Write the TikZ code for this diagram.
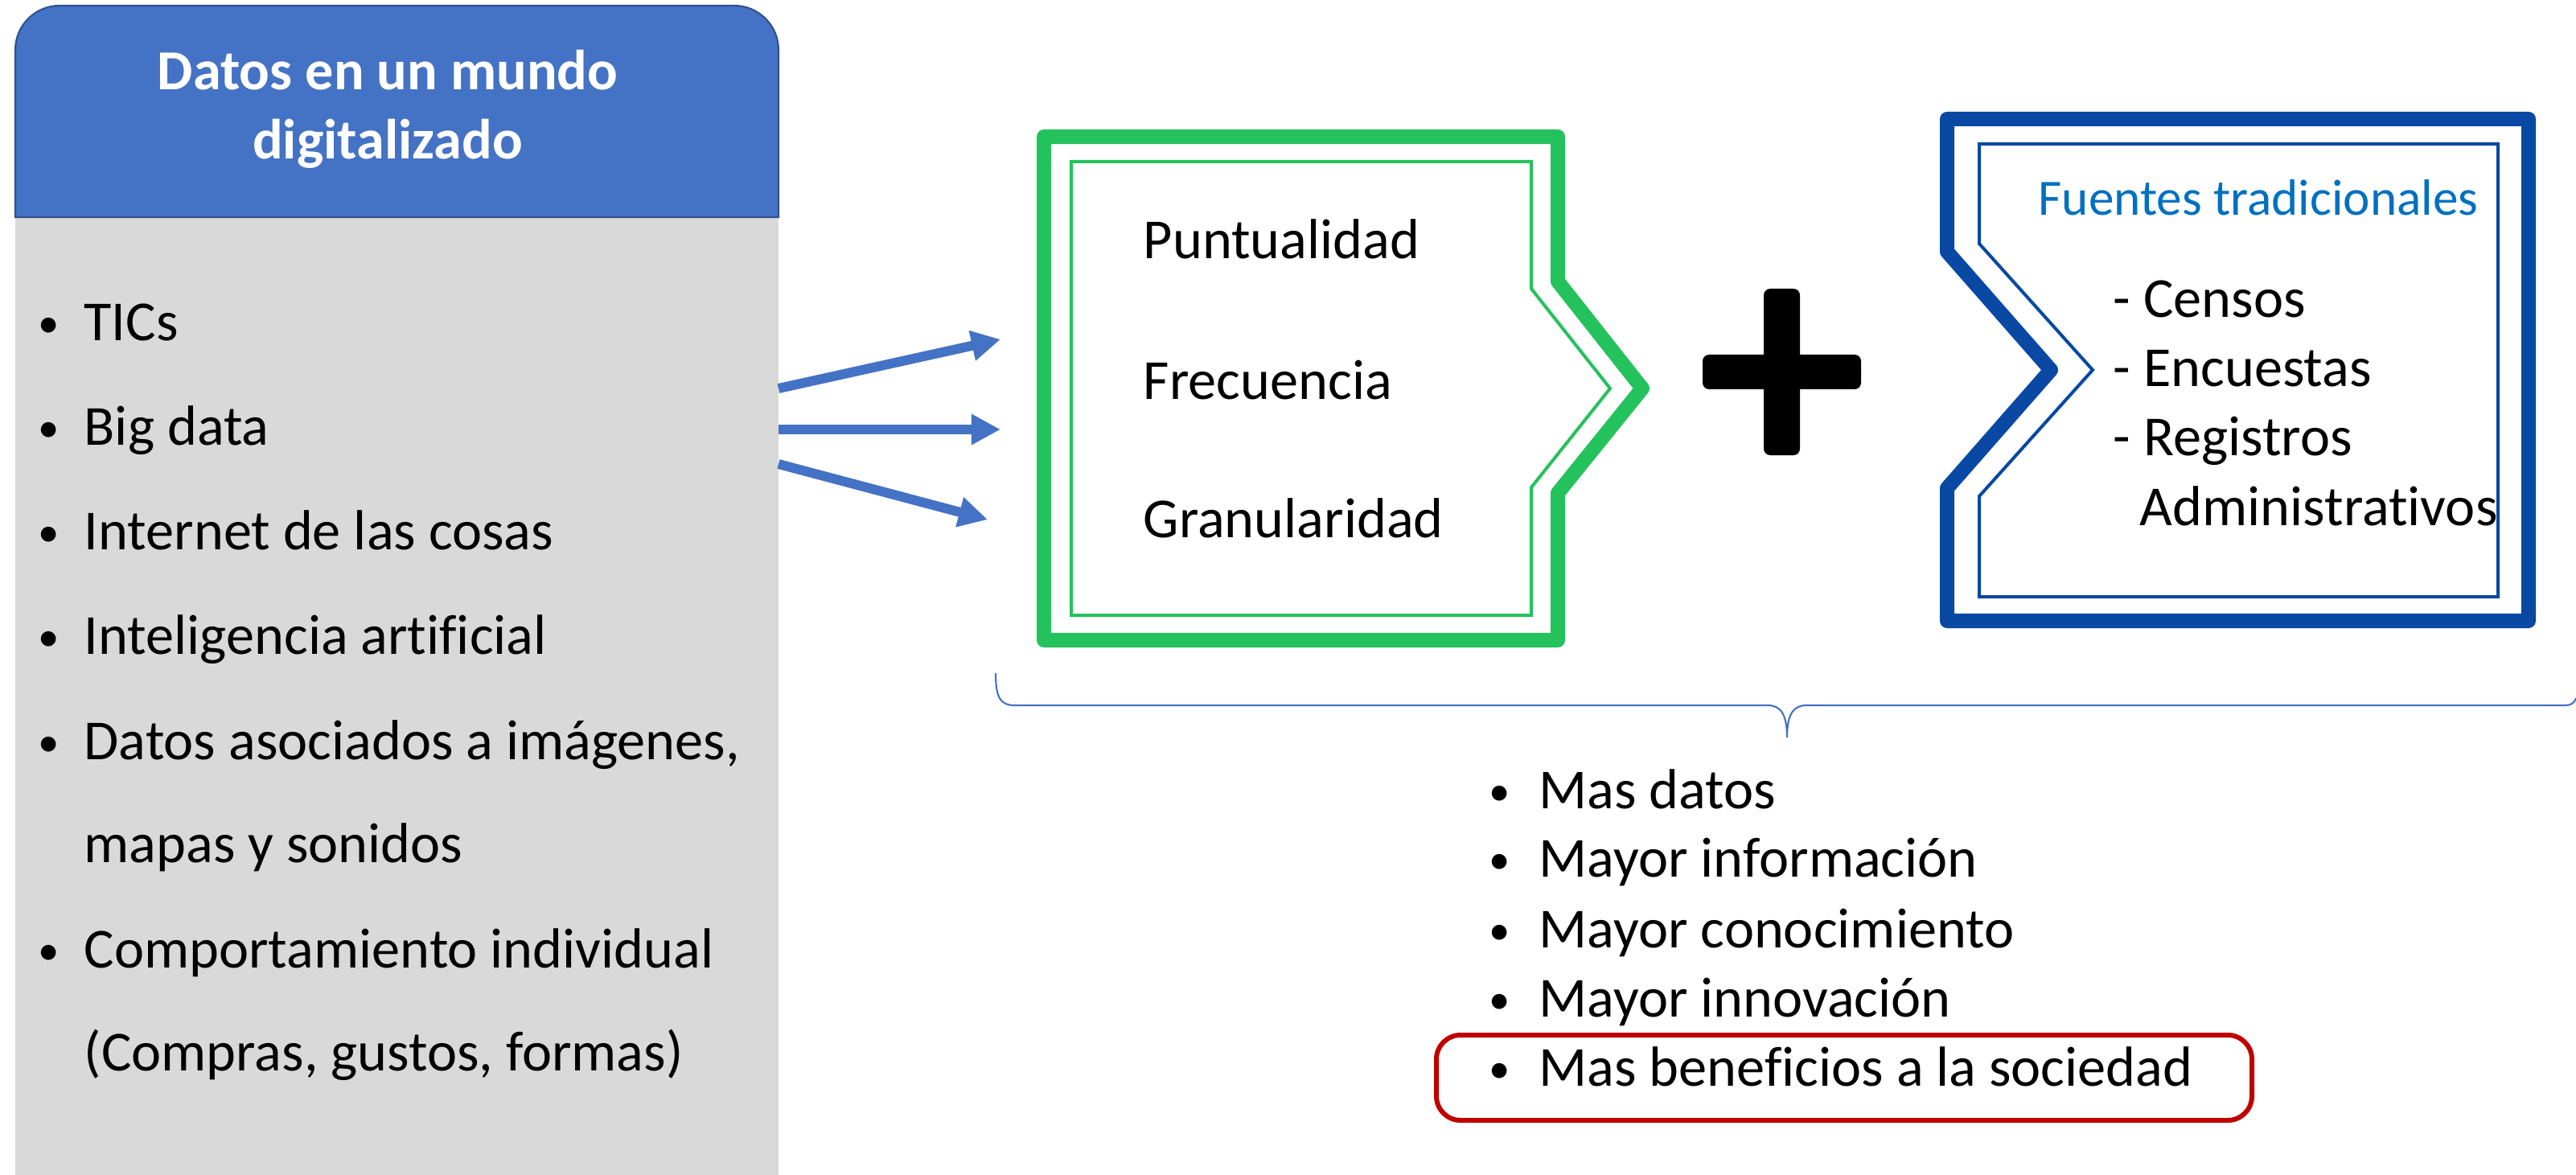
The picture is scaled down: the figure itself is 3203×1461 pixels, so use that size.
\documentclass[tikz,border=0pt]{standalone}
\usepackage{fontspec}
\setmainfont{Carlito}[Ligatures=NoCommon]
\usetikzlibrary{arrows.meta}

\definecolor{hdrblue}{RGB}{68,114,196}
\definecolor{hdredge}{RGB}{47,82,143}
\definecolor{boxgrey}{RGB}{217,217,217}
\definecolor{chevgreen}{RGB}{36,194,92}
\definecolor{chevblue}{RGB}{9,72,163}
\definecolor{srcblue}{RGB}{0,112,192}
\definecolor{darkred}{RGB}{192,0,0}

\tikzset{
  txt/.style={anchor=base west, inner sep=0pt, font=\fontsize{20}{24}\selectfont},
  dot/.style={anchor=base, inner sep=0pt, yshift=0.04cm, font=\fontsize{15}{18}\selectfont},
  head/.style={anchor=base, inner sep=0pt, text=white, font=\fontsize{20}{24}\selectfont\bfseries},
  flow/.style={line width=3.4pt, draw=hdrblue, -{Triangle[length=0.36cm,width=0.36cm]}},
}

\begin{document}
\begin{tikzpicture}[x=0.01cm,y=-0.01cm]
    \useasboundingbox (0,0) rectangle (3203,1461);

    % left panel
    \coordinate (L1) at (19, 270);
    \coordinate (L2) at (19, 7);
    \coordinate (L3) at (968, 7);
    \coordinate (L4) at (968, 270);
    \fill[boxgrey] (L1) rectangle (968, 1461);
    \filldraw[fill=hdrblue, draw=hdredge, line width=0.6pt]
        (L1) [rounded corners=0.55cm] -- (L2) -- (L3) [sharp corners] -- (L4) -- cycle;

    \node[head] (title1) at (482, 112) {Datos en un mundo};
    \node[head] (title2) at (482, 198) {digitalizado};

    \node[dot] (d1) at (61, 424) {\textbullet};
    \node[txt] (t1) at (104, 424) {TICs};
    \node[dot] (d2) at (61, 554) {\textbullet};
    \node[txt] (t2) at (104, 554) {Big data};
    \node[dot] (d3) at (61, 683) {\textbullet};
    \node[txt] (t3) at (104, 683) {Internet de las cosas};
    \node[dot] (d4) at (61, 813) {\textbullet};
    \node[txt] (t4) at (104, 813) {Inteligencia artificial};
    \node[dot] (d5) at (61, 944) {\textbullet};
    \node[txt] (t5) at (104, 944) {Datos asociados a imágenes,};
    \node[txt] (t6) at (104, 1072) {mapas y sonidos};
    \node[dot] (d7) at (61, 1203) {\textbullet};
    \node[txt] (t7) at (104, 1203) {Comportamiento individual};
    \node[txt] (t8) at (104, 1331) {(Compras, gustos, formas)};

    % arrows
    \coordinate (S1) at (968, 483);
    \coordinate (S2) at (968, 534);
    \coordinate (S3) at (968, 577);
    \coordinate (E1) at (1244, 422);
    \coordinate (E2) at (1244, 534);
    \coordinate (E3) at (1228, 646);
    \draw[flow] (S1) -- (E1);
    \draw[flow] (S2) -- (E2);
    \draw[flow] (S3) -- (E3);

    % green chevron
    \coordinate (A1) at (1298, 170);
    \coordinate (A2) at (1937, 170);
    \coordinate (A3) at (1937, 350);
    \coordinate (A4) at (2042, 483);
    \coordinate (A5) at (1937, 613);
    \coordinate (A6) at (1937, 796);
    \coordinate (A7) at (1298, 796);
    \coordinate (B1) at (1332, 201);
    \coordinate (B2) at (1904, 201);
    \coordinate (B3) at (1904, 359);
    \coordinate (B4) at (2002, 483);
    \coordinate (B5) at (1904, 606);
    \coordinate (B6) at (1904, 765);
    \coordinate (B7) at (1332, 765);
    \draw[chevgreen, line width=0.18cm, line join=round]
        (A1) -- (A2) -- (A3) -- (A4) -- (A5) -- (A6) -- (A7) -- cycle;
    \draw[chevgreen, line width=0.04cm]
        (B1) -- (B2) -- (B3) -- (B4) -- (B5) -- (B6) -- (B7) -- cycle;

    \node[txt] (g1) at (1421, 322) {Puntualidad};
    \node[txt] (g2) at (1421, 496) {Frecuencia};
    \node[txt] (g3) at (1421, 668) {Granularidad};

    % plus
    \fill[rounded corners=0.08cm] (2117, 441) rectangle (2314, 484);
    \fill[rounded corners=0.08cm] (2193, 359) rectangle (2238, 566);

    % blue chevron
    \coordinate (C1) at (2421, 148);
    \coordinate (C2) at (3144, 148);
    \coordinate (C3) at (3144, 772);
    \coordinate (C4) at (2421, 772);
    \coordinate (C5) at (2421, 607);
    \coordinate (C6) at (2550, 460);
    \coordinate (C7) at (2421, 313);
    \coordinate (D1) at (2461, 179);
    \coordinate (D2) at (3106, 179);
    \coordinate (D3) at (3106, 742);
    \coordinate (D4) at (2461, 742);
    \coordinate (D5) at (2461, 617);
    \coordinate (D6) at (2602, 460);
    \coordinate (D7) at (2461, 303);
    \draw[chevblue, line width=0.18cm, line join=round]
        (C1) -- (C2) -- (C3) -- (C4) -- (C5) -- (C6) -- (C7) -- cycle;
    \draw[chevblue, line width=0.04cm]
        (D1) -- (D2) -- (D3) -- (D4) -- (D5) -- (D6) -- (D7) -- cycle;

    \node[txt, text=srcblue, font=\fontsize{18}{22}\selectfont] (src) at (2534, 268) {Fuentes tradicionales};
    \node[txt] (s1) at (2627, 395) {- Censos};
    \node[txt] (s2) at (2627, 481) {- Encuestas};
    \node[txt] (s3) at (2627, 567) {- Registros};
    \node[txt] (s4) at (2660, 653) {Administrativos};

    % brace
    \coordinate (BL) at (1238, 837);
    \coordinate (BM) at (2222, 917);
    \coordinate (BR) at (3203, 868);
    \draw[hdrblue, line width=0.6pt]
        (BL) .. controls (1238, 868) and (1244, 877) .. (1262, 877)
        -- (2198, 877) .. controls (2214, 877) and (2222, 888) .. (BM)
        .. controls (2222, 888) and (2230, 877) .. (2246, 877)
        -- (3190, 877) .. controls (3197, 877) and (3201, 874) .. (BR);

    % result list
    \node[dot] (r1d) at (1865, 1005) {\textbullet};
    \node[txt] (r1) at (1913, 1005) {Mas datos};
    \node[dot] (r2d) at (1865, 1090) {\textbullet};
    \node[txt] (r2) at (1913, 1090) {Mayor información};
    \node[dot] (r3d) at (1865, 1178) {\textbullet};
    \node[txt] (r3) at (1913, 1178) {Mayor conocimiento};
    \node[dot] (r4d) at (1865, 1264) {\textbullet};
    \node[txt] (r4) at (1913, 1264) {Mayor innovación};
    \node[dot] (r5d) at (1865, 1350) {\textbullet};
    \node[txt] (r5) at (1913, 1350) {Mas beneficios a la sociedad};

    \coordinate (R1) at (1786, 1287);
    \coordinate (R2) at (2800, 1393);
    \draw[darkred, line width=0.06cm, rounded corners=0.3cm] (R1) rectangle (R2);
\end{tikzpicture}
\end{document}
